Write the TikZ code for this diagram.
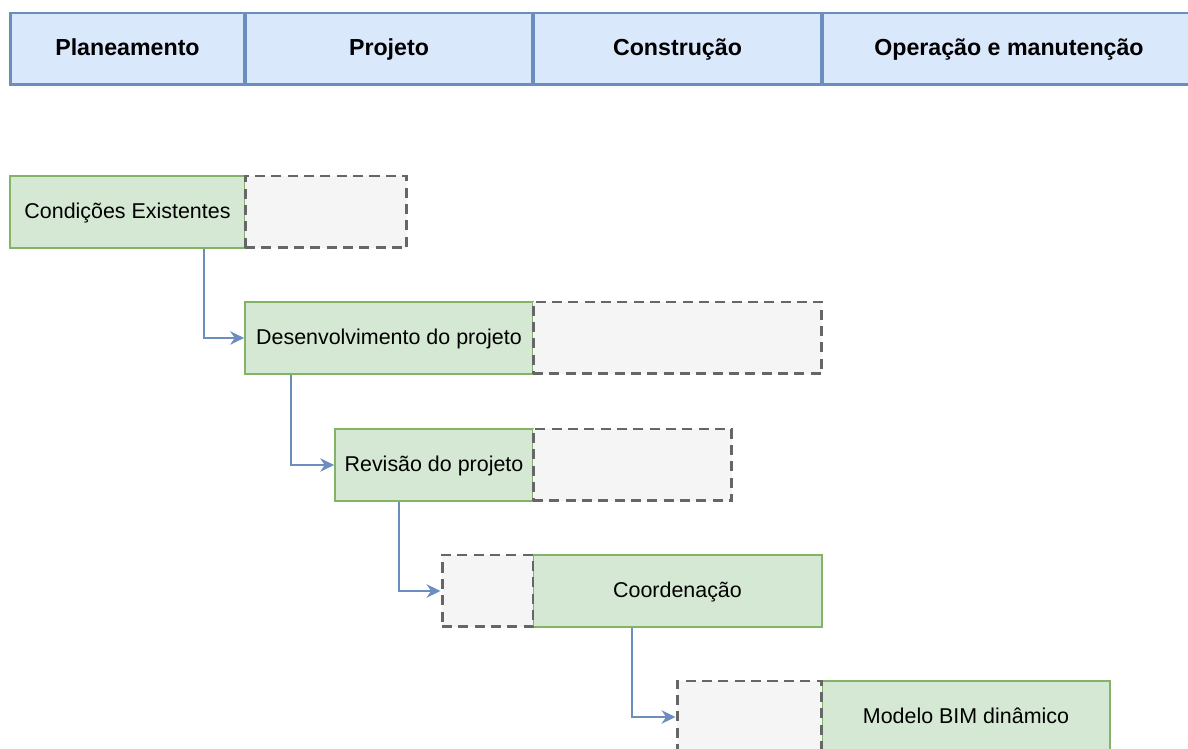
\documentclass[tikz,border=0pt]{standalone}
\usepackage{fontspec}
\setmainfont{Liberation Sans}
\usepackage{tikz}
\usetikzlibrary{arrows.meta,positioning}
\definecolor{headfill}{HTML}{DAE8FC}
\definecolor{headline}{HTML}{6C8EBF}
\definecolor{taskfill}{HTML}{D5E8D4}
\definecolor{taskline}{HTML}{82B366}
\definecolor{slackfill}{HTML}{F5F5F5}
\definecolor{slackline}{HTML}{666666}

\begin{document}
\begin{tikzpicture}[x=0.02cm, y=-0.02cm,
  phase/.style={draw=headline, line width=1.7pt, fill=headfill, inner sep=0pt,
  minimum height=1.44cm, text height=0.72em, text depth=0pt,
  font=\fontsize{13.2}{15}\selectfont\bfseries},
  task/.style={draw=taskline, line width=1pt, fill=taskfill, inner sep=0pt,
  minimum height=1.44cm, text height=0.72em, text depth=0pt,
  font=\fontsize{12.2}{14}\selectfont},
  slack/.style={draw=slackline, line width=1.7pt, dash pattern=on 5.7pt off 3.6pt,
  fill=slackfill, inner sep=0pt, minimum height=1.44cm},
  arrow/.style={-{Stealth[length=2.8mm,width=2.7mm]}, line width=0.9pt, draw=headline}
]
\useasboundingbox (0,0) rectangle (1188,749);
\clip (0,0) rectangle (1188,749);

% phases
\node[phase, minimum width=4.70cm] (plan) at (127.5,49) {Planeamento};
\node[phase, minimum width=5.76cm] (proj) at (389,49) {Projeto};
\node[phase, minimum width=5.78cm] (cons) at (677.5,49) {Construção};
\node[phase, minimum width=7.48cm] (oper) at (1009,49) {Operação e manutenção};

% tasks
\node[task, minimum width=4.70cm] (cond) at (127.5,212) {Condições Existentes};
\node[task, minimum width=5.76cm] (dev) at (389,338) {Desenvolvimento do projeto};
\node[task, minimum width=3.96cm] (rev) at (434,465) {Revisão do projeto};
\node[task, minimum width=5.78cm] (coord) at (677.5,591) {Coordenação};
\node[task, minimum width=5.76cm] (bim) at (966,717) {Modelo BIM dinâmico};

% slack
\node[slack, minimum width=3.24cm] (condgap) at (326,212) {};
\node[slack, minimum width=5.78cm] (devgap) at (677.5,338) {};
\node[slack, minimum width=3.98cm] (revgap) at (632.5,465) {};
\node[slack, minimum width=1.82cm] (coordgap) at (487.5,591) {};
\node[slack, minimum width=2.90cm] (bimgap) at (749.5,717) {};

\draw[arrow] ([xshift=-0.84cm]cond.south east) |- (dev.west);
\draw[arrow] ([xshift=0.94cm]dev.south west) |- (rev.west);
\draw[arrow] ([xshift=1.30cm]rev.south west) |- (coordgap.west);
\draw[arrow] ([xshift=2.00cm]coord.south west) |- (bimgap.west);
\end{tikzpicture}
\end{document}
